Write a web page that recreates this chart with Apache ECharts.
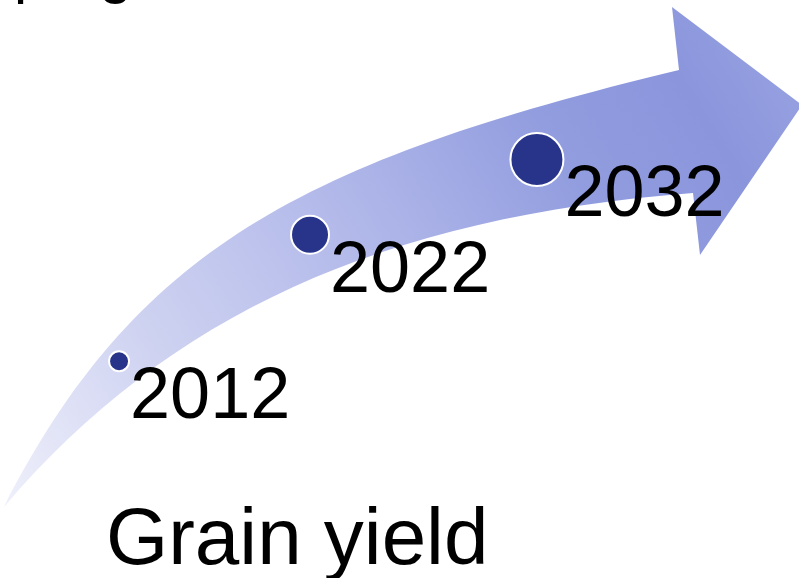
<!DOCTYPE html>
<html>
<head>
<meta charset="utf-8">
<script src="https://cdn.jsdelivr.net/npm/echarts@6/dist/echarts.min.js"></script>
<style>
html,body{margin:0;padding:0;background:#fff;}
#chart{width:799px;height:578px;}
</style>
</head>
<body>
<div id="chart"></div>
<script>
// Milestones along the arrow
const years = ['2012', '2022', '2032'];
// horizontal position along the arrow (% of width)
const xPos = [14.9, 38.8, 67.2];
// height along the arrow (% of height)
const yPos = [37.5, 59.4, 72.4];
// dot sizes (growing with time)
const dotSize = [20, 38, 53];
const titleText = 'progress';
const bottomText = 'Grain yield';

const FONT = '"Liberation Sans", Arial, sans-serif';

const chart = echarts.init(document.getElementById('chart'), null, {renderer: 'canvas'});

const arrowPath =
  'M4,507 C135,251 301,161 679,70 L672,7 L802,105 L700,255 L693,193 C382,217 168,315 4,507 Z';

const option = {
  backgroundColor: '#ffffff',
  animation: false,
  grid: {left: 0, right: 0, top: 0, bottom: 0},
  xAxis: {type: 'value', min: 0, max: 100, show: false},
  yAxis: {type: 'value', min: 0, max: 100, show: false},
  graphic: [
    {
      type: 'text', z: 10,
      style: {
        text: titleText, x: 14, y: -24,
        font: '59px ' + FONT, lineHeight: 59,
        fill: '#000', verticalAlign: 'middle', align: 'left'
      }
    },
    {
      type: 'text', z: 10,
      style: {
        text: bottomText, x: 106, y: 542.3,
        font: '80px ' + FONT, lineHeight: 80,
        fill: '#000', verticalAlign: 'middle', align: 'left'
      }
    }
  ],
  series: [
    {
      type: 'custom',
      coordinateSystem: 'none',
      silent: true,
      z: 1,
      data: [0],
      renderItem: function () {
        return {
          type: 'path',
          shape: {pathData: arrowPath},
          style: {
            fill: new echarts.graphic.LinearGradient(0, 1, 1, 0, [
              {offset: 0, color: '#eff0fb'},
              {offset: 0.22, color: '#cfd3f1'},
              {offset: 0.46, color: '#b3baea'},
              {offset: 0.7, color: '#929ddf'},
              {offset: 0.85, color: '#8a95dc'},
              {offset: 1, color: '#9ca6e3'}
            ]),
            stroke: null
          }
        };
      }
    },
    {
      type: 'scatter',
      z: 3,
      data: years.map(function (y, i) {
        return {value: [xPos[i], yPos[i]], name: y, symbolSize: dotSize[i]};
      }),
      itemStyle: {color: '#28348a', borderColor: '#ffffff', borderWidth: 2, opacity: 1},
      label: {
        show: true,
        position: 'right',
        distance: 0,
        offset: [0, 37],
        formatter: '{b}',
        color: '#000',
        fontFamily: FONT,
        fontSize: 72,
        lineHeight: 72
      },
      emphasis: {disabled: true}
    }
  ]
};
chart.setOption(option);
</script>
</body>
</html>
